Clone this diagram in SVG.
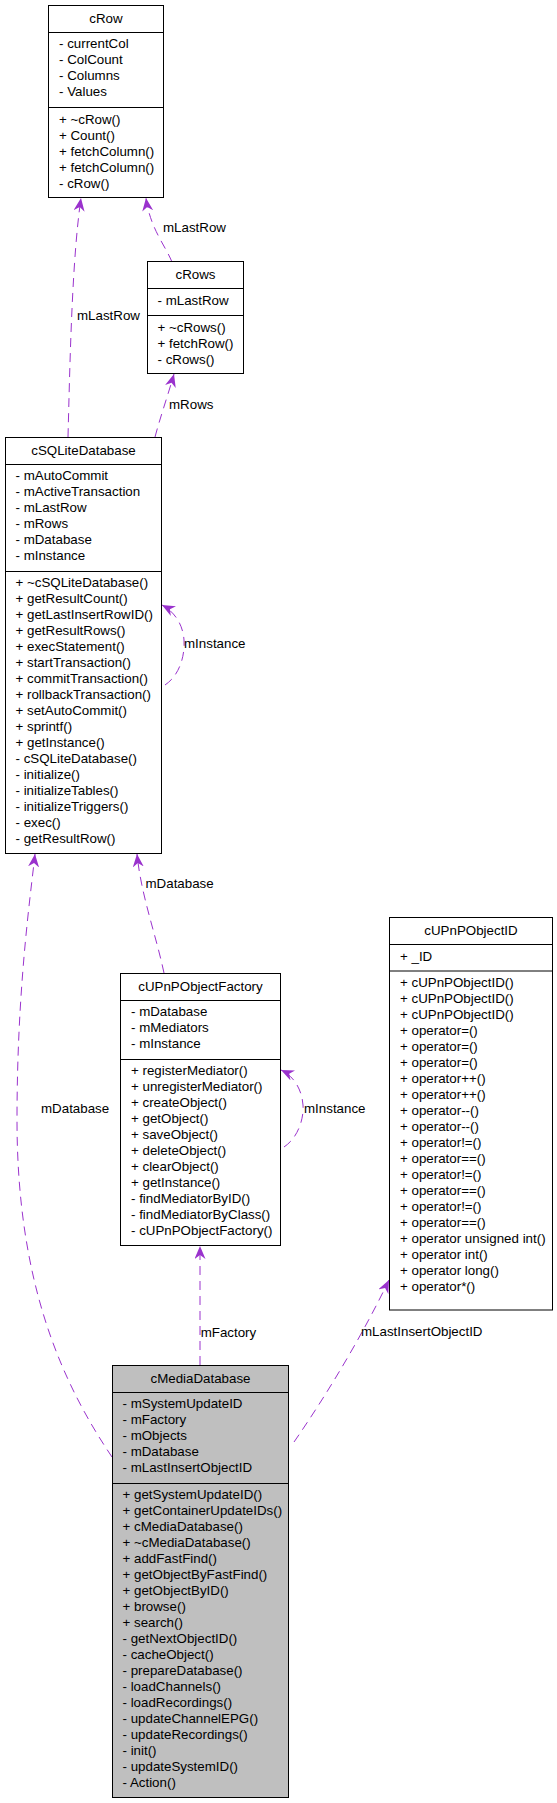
<svg xmlns="http://www.w3.org/2000/svg" width="557" height="1803" viewBox="0 0 557 1803">
<style>
text{font-family:"Liberation Sans",Arial,sans-serif;font-size:13.33px;fill:#000}
.t{text-anchor:middle}
.box{fill:#fff;stroke:#000;stroke-width:1}
.cur{fill:#bfbfbf;stroke:#000;stroke-width:1}
.sep{stroke:#000;stroke-width:1}
.e{fill:none;stroke:#9a32cd;stroke-width:1;stroke-dasharray:9,6;marker-end:url(#a)}
</style>
<defs>
<marker id="a" markerUnits="userSpaceOnUse" markerWidth="14" markerHeight="12" refX="13" refY="5.5" orient="auto">
<path d="M0,0 L13,5.5 L0,11 L4,5.5 Z" fill="#9a32cd"/>
</marker>
</defs>
<rect width="557" height="1803" fill="#fff"/>
<g id="connectors">
<path class="e" d="M172,262 C165,245 150,228 146,198"/>
<path class="e" d="M68,437 C70,360 72,260 81,198"/>
<path class="e" d="M155,437 C160,418 168,395 174,374"/>
<path class="e" d="M165,685 C180,675 185,655 184,640 C183,625 175,612 162,605"/>
<path class="e" d="M164,973 C156,935 141,895 137,854"/>
<path class="e" d="M284,1147 C299,1137 304,1117 303,1105 C302,1090 294,1076 281,1070"/>
<path class="e" d="M112,1457 C60,1380 17,1280 17,1120 C17,990 30,900 35,854"/>
<path class="e" d="M200,1365 L200,1246"/>
<path class="e" d="M294,1442 C330,1390 365,1330 389,1280"/>
<text x="163" y="232">mLastRow</text>
<text x="77" y="320">mLastRow</text>
<text x="169" y="409">mRows</text>
<text x="184" y="648">mInstance</text>
<text x="145.5" y="888">mDatabase</text>
<text x="304" y="1113">mInstance</text>
<text x="41" y="1113">mDatabase</text>
<text x="200.7" y="1337">mFactory</text>
<text x="361" y="1336">mLastInsertObjectID</text>
</g>
<g id="cRow">
<rect class="box" x="48.5" y="5.5" width="115" height="192"/>
<line class="sep" x1="48.5" y1="32.5" x2="163.5" y2="32.5"/>
<line class="sep" x1="48.5" y1="107.5" x2="163.5" y2="107.5"/>
<text class="t" x="106" y="23">cRow</text>
<text x="59" y="48">- currentCol</text>
<text x="59" y="64">- ColCount</text>
<text x="59" y="80">- Columns</text>
<text x="59" y="96">- Values</text>
<text x="59" y="124">+ ~cRow()</text>
<text x="59" y="140">+ Count()</text>
<text x="59" y="156">+ fetchColumn()</text>
<text x="59" y="172">+ fetchColumn()</text>
<text x="59" y="188">- cRow()</text>
</g>
<g id="cRows">
<rect class="box" x="147.5" y="261.5" width="96" height="112"/>
<line class="sep" x1="147.5" y1="288.5" x2="243.5" y2="288.5"/>
<line class="sep" x1="147.5" y1="315.5" x2="243.5" y2="315.5"/>
<text class="t" x="195.5" y="279">cRows</text>
<text x="157.5" y="305">- mLastRow</text>
<text x="157.5" y="332">+ ~cRows()</text>
<text x="157.5" y="348">+ fetchRow()</text>
<text x="157.5" y="364">- cRows()</text>
</g>
<g id="cSQLiteDatabase">
<rect class="box" x="5.5" y="437.5" width="156" height="416"/>
<line class="sep" x1="5.5" y1="464.5" x2="161.5" y2="464.5"/>
<line class="sep" x1="5.5" y1="571.5" x2="161.5" y2="571.5"/>
<text class="t" x="83.5" y="455">cSQLiteDatabase</text>
<text x="15.5" y="480">- mAutoCommit</text>
<text x="15.5" y="496">- mActiveTransaction</text>
<text x="15.5" y="512">- mLastRow</text>
<text x="15.5" y="528">- mRows</text>
<text x="15.5" y="544">- mDatabase</text>
<text x="15.5" y="560">- mInstance</text>
<text x="15.5" y="587">+ ~cSQLiteDatabase()</text>
<text x="15.5" y="603">+ getResultCount()</text>
<text x="15.5" y="619">+ getLastInsertRowID()</text>
<text x="15.5" y="635">+ getResultRows()</text>
<text x="15.5" y="651">+ execStatement()</text>
<text x="15.5" y="667">+ startTransaction()</text>
<text x="15.5" y="683">+ commitTransaction()</text>
<text x="15.5" y="699">+ rollbackTransaction()</text>
<text x="15.5" y="715">+ setAutoCommit()</text>
<text x="15.5" y="731">+ sprintf()</text>
<text x="15.5" y="747">+ getInstance()</text>
<text x="15.5" y="763">- cSQLiteDatabase()</text>
<text x="15.5" y="779">- initialize()</text>
<text x="15.5" y="795">- initializeTables()</text>
<text x="15.5" y="811">- initializeTriggers()</text>
<text x="15.5" y="827">- exec()</text>
<text x="15.5" y="843">- getResultRow()</text>
</g>
<g id="cUPnPObjectFactory">
<rect class="box" x="120.5" y="973.5" width="160" height="272"/>
<line class="sep" x1="120.5" y1="1000.5" x2="280.5" y2="1000.5"/>
<line class="sep" x1="120.5" y1="1059.5" x2="280.5" y2="1059.5"/>
<text class="t" x="200.5" y="991">cUPnPObjectFactory</text>
<text x="131" y="1016">- mDatabase</text>
<text x="131" y="1032">- mMediators</text>
<text x="131" y="1048">- mInstance</text>
<text x="131" y="1075">+ registerMediator()</text>
<text x="131" y="1091">+ unregisterMediator()</text>
<text x="131" y="1107">+ createObject()</text>
<text x="131" y="1123">+ getObject()</text>
<text x="131" y="1139">+ saveObject()</text>
<text x="131" y="1155">+ deleteObject()</text>
<text x="131" y="1171">+ clearObject()</text>
<text x="131" y="1187">+ getInstance()</text>
<text x="131" y="1203">- findMediatorByID()</text>
<text x="131" y="1219">- findMediatorByClass()</text>
<text x="131" y="1235">- cUPnPObjectFactory()</text>
</g>
<g id="cUPnPObjectID">
<rect class="box" x="389.5" y="917.5" width="163" height="392.5"/>
<line class="sep" x1="389.5" y1="944.5" x2="552.5" y2="944.5"/>
<line class="sep" x1="389.5" y1="971" x2="552.5" y2="971"/>
<text class="t" x="471" y="935">cUPnPObjectID</text>
<text x="400" y="961">+ _ID</text>
<text x="400" y="987">+ cUPnPObjectID()</text>
<text x="400" y="1003">+ cUPnPObjectID()</text>
<text x="400" y="1019">+ cUPnPObjectID()</text>
<text x="400" y="1035">+ operator=()</text>
<text x="400" y="1051">+ operator=()</text>
<text x="400" y="1067">+ operator=()</text>
<text x="400" y="1083">+ operator++()</text>
<text x="400" y="1099">+ operator++()</text>
<text x="400" y="1115">+ operator--()</text>
<text x="400" y="1131">+ operator--()</text>
<text x="400" y="1147">+ operator!=()</text>
<text x="400" y="1163">+ operator==()</text>
<text x="400" y="1179">+ operator!=()</text>
<text x="400" y="1195">+ operator==()</text>
<text x="400" y="1211">+ operator!=()</text>
<text x="400" y="1227">+ operator==()</text>
<text x="400" y="1243">+ operator unsigned int()</text>
<text x="400" y="1259">+ operator int()</text>
<text x="400" y="1275">+ operator long()</text>
<text x="400" y="1291">+ operator*()</text>
</g>
<g id="cMediaDatabase">
<rect class="cur" x="112.5" y="1365.5" width="176" height="432"/>
<line class="sep" x1="112.5" y1="1392.5" x2="288.5" y2="1392.5"/>
<line class="sep" x1="112.5" y1="1483.5" x2="288.5" y2="1483.5"/>
<text class="t" x="200.5" y="1383">cMediaDatabase</text>
<text x="122.5" y="1408">- mSystemUpdateID</text>
<text x="122.5" y="1424">- mFactory</text>
<text x="122.5" y="1440">- mObjects</text>
<text x="122.5" y="1456">- mDatabase</text>
<text x="122.5" y="1472">- mLastInsertObjectID</text>
<text x="122.5" y="1499">+ getSystemUpdateID()</text>
<text x="122.5" y="1515">+ getContainerUpdateIDs()</text>
<text x="122.5" y="1531">+ cMediaDatabase()</text>
<text x="122.5" y="1547">+ ~cMediaDatabase()</text>
<text x="122.5" y="1563">+ addFastFind()</text>
<text x="122.5" y="1579">+ getObjectByFastFind()</text>
<text x="122.5" y="1595">+ getObjectByID()</text>
<text x="122.5" y="1611">+ browse()</text>
<text x="122.5" y="1627">+ search()</text>
<text x="122.5" y="1643">- getNextObjectID()</text>
<text x="122.5" y="1659">- cacheObject()</text>
<text x="122.5" y="1675">- prepareDatabase()</text>
<text x="122.5" y="1691">- loadChannels()</text>
<text x="122.5" y="1707">- loadRecordings()</text>
<text x="122.5" y="1723">- updateChannelEPG()</text>
<text x="122.5" y="1739">- updateRecordings()</text>
<text x="122.5" y="1755">- init()</text>
<text x="122.5" y="1771">- updateSystemID()</text>
<text x="122.5" y="1787">- Action()</text>
</g>
</svg>
